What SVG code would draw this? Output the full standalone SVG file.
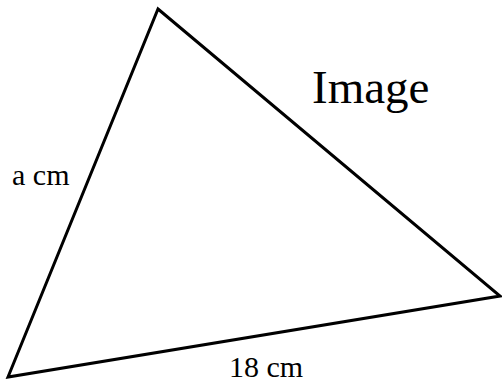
<svg xmlns="http://www.w3.org/2000/svg" width="502" height="385" viewBox="0 0 502 385">
<style>
text{font-family:"Liberation Serif","Times New Roman",serif;fill:#000}
.edge{fill:none;stroke:#000;stroke-width:3;stroke-linejoin:miter}
</style>
<rect width="502" height="385" fill="#fff"/>
<g id="connectors">
<polygon class="edge" points="158,9 500,296 8,377"/>
</g>
<g id="label-a"><text x="12" y="185" font-size="30">a cm</text></g>
<g id="label-18"><text x="229" y="377" font-size="30">18 cm</text></g>
<g id="label-image"><text x="312" y="103" font-size="47">Image</text></g>
</svg>
